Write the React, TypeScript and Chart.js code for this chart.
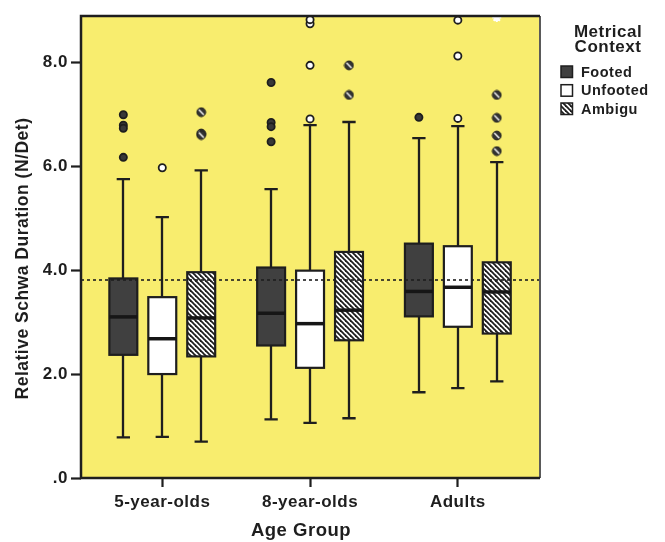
import React, { useEffect, useRef } from 'react';
import { Chart, registerables } from 'chart.js';

Chart.register(...registerables);

// ---------- data ----------
const categories = ['5-year-olds', '8-year-olds', 'Adults'];
const seriesNames = ['Footed', 'Unfooted', 'Ambigu'];
const yTickValues = [0, 2, 4, 6, 8];
const yTickLabels = ['.0', '2.0', '4.0', '6.0', '8.0'];
const referenceValue = 3.81;

const footedLow = [0.78, 1.13, 1.65];
const footedQ1 = [2.37, 2.55, 3.11];
const footedMedian = [3.1, 3.17, 3.59];
const footedQ3 = [3.84, 4.05, 4.51];
const footedHigh = [5.75, 5.56, 6.54];
const footedOutliers = [[6.99, 6.79, 6.73, 6.17], [7.61, 6.84, 6.76, 6.47], [6.94]];

const unfootedLow = [0.79, 1.06, 1.73];
const unfootedQ1 = [2.0, 2.12, 2.91];
const unfootedMedian = [2.68, 2.97, 3.67];
const unfootedQ3 = [3.48, 3.99, 4.46];
const unfootedHigh = [5.02, 6.79, 6.77];
const unfootedOutliers = [[5.97], [6.91, 7.94, 8.74, 8.82], [6.92, 8.12, 8.81]];

const ambiguLow = [0.7, 1.15, 1.86];
const ambiguQ1 = [2.34, 2.65, 2.78];
const ambiguMedian = [3.08, 3.23, 3.58];
const ambiguQ3 = [3.96, 4.35, 4.15];
const ambiguHigh = [5.92, 6.85, 6.08];
const ambiguOutliers = [[7.04, 6.63, 6.6], [7.94, 7.37], [7.37, 6.93, 6.59, 6.29]];
const ambiguExtremes = [[], [], [8.86]];

// ---------- layout / style ----------
const series = [
  { low: footedLow, q1: footedQ1, med: footedMedian, q3: footedQ3, high: footedHigh, out: footedOutliers },
  { low: unfootedLow, q1: unfootedQ1, med: unfootedMedian, q3: unfootedQ3, high: unfootedHigh, out: unfootedOutliers },
  { low: ambiguLow, q1: ambiguQ1, med: ambiguMedian, q3: ambiguQ3, high: ambiguHigh, out: ambiguOutliers },
];
const offsets = [-0.2635, 0, 0.2635];
const boxHalf = 0.0945;
const capHalf = 0.045;
const X_MIN = 0.45;
const X_MAX = 3.556;
const Y_MAX = 8.89;
const INK = '#1e1e1e';
const DARK = '#404040';
const YELLOW = '#F8ED6E';
const FONT = '"Liberation Sans", Arial, Helvetica, sans-serif';

function makeHatch(): CanvasPattern | string {
  const c = document.createElement('canvas');
  c.width = 5;
  c.height = 5;
  const g = c.getContext('2d');
  if (!g) return '#888';
  g.fillStyle = '#ffffff';
  g.fillRect(0, 0, 5, 5);
  g.strokeStyle = '#1e1e1e';
  g.lineWidth = 1.8;
  for (const k of [-5, 0, 5]) {
    g.beginPath();
    g.moveTo(k - 1, -1);
    g.lineTo(k + 6, 6);
    g.stroke();
  }
  const p = g.createPattern(c, 'repeat');
  return p || '#888';
}

function makeAmbiguPoint(): HTMLCanvasElement {
  const c = document.createElement('canvas');
  c.width = 11;
  c.height = 11;
  const g = c.getContext('2d');
  if (g) {
    g.beginPath();
    g.arc(5.5, 5.5, 4.4, 0, Math.PI * 2);
    g.fillStyle = '#333333';
    g.fill();
    g.lineWidth = 1;
    g.strokeStyle = INK;
    g.stroke();
    g.save();
    g.beginPath();
    g.arc(5.5, 5.5, 3.6, 0, Math.PI * 2);
    g.clip();
    g.strokeStyle = '#ffffff';
    g.lineWidth = 1.4;
    g.beginPath();
    g.moveTo(2.6, 2.6);
    g.lineTo(8.4, 8.4);
    g.stroke();
    g.restore();
  }
  return c;
}

export default function App() {
  const ref = useRef<HTMLCanvasElement | null>(null);

  useEffect(() => {
    document.body.style.margin = '0';
    const canvas = ref.current;
    if (!canvas) return;
    const hatch = makeHatch();
    const fills = [DARK, '#ffffff', hatch];

    const plugin = {
      id: 'boxplotDraw',
      beforeDraw(chart: any) {
        const { ctx, chartArea: a } = chart;
        (ctx as any).letterSpacing = '0.5px';
        ctx.save();
        ctx.fillStyle = YELLOW;
        ctx.fillRect(a.left, a.top, a.right - a.left, a.bottom - a.top);
        ctx.restore();
      },
      beforeDatasetsDraw(chart: any) {
        const { ctx, chartArea: a } = chart;
        const xs = chart.scales.x;
        const ys = chart.scales.y;
        ctx.save();
        ctx.beginPath();
        ctx.rect(a.left, a.top, a.right - a.left, a.bottom - a.top);
        ctx.clip();
        series.forEach((s, si) => {
          categories.forEach((_, gi) => {
            const xc = gi + 1 + offsets[si];
            const cx = Math.round(xs.getPixelForValue(xc));
            const l = xs.getPixelForValue(xc - boxHalf);
            const r = xs.getPixelForValue(xc + boxHalf);
            const cl = xs.getPixelForValue(xc - capHalf);
            const cr = xs.getPixelForValue(xc + capHalf);
            const yLow = ys.getPixelForValue(s.low[gi]);
            const yQ1 = ys.getPixelForValue(s.q1[gi]);
            const yMed = ys.getPixelForValue(s.med[gi]);
            const yQ3 = ys.getPixelForValue(s.q3[gi]);
            const yHigh = ys.getPixelForValue(s.high[gi]);
            ctx.strokeStyle = INK;
            ctx.lineWidth = 2.3;
            ctx.beginPath();
            ctx.moveTo(cx, yLow);
            ctx.lineTo(cx, yQ1);
            ctx.moveTo(cx, yQ3);
            ctx.lineTo(cx, yHigh);
            ctx.moveTo(cl, yLow);
            ctx.lineTo(cr, yLow);
            ctx.moveTo(cl, yHigh);
            ctx.lineTo(cr, yHigh);
            ctx.stroke();
            ctx.fillStyle = fills[si] as any;
            ctx.fillRect(l, yQ3, r - l, yQ1 - yQ3);
            ctx.lineWidth = 2.2;
            ctx.strokeStyle = INK;
            ctx.strokeRect(l, yQ3, r - l, yQ1 - yQ3);
            ctx.lineWidth = 3.5;
            ctx.strokeStyle = '#161616';
            ctx.beginPath();
            ctx.moveTo(l, yMed);
            ctx.lineTo(r, yMed);
            ctx.stroke();
          });
        });
        const yr = ys.getPixelForValue(referenceValue);
        ctx.setLineDash([3, 3]);
        ctx.lineWidth = 1.6;
        ctx.strokeStyle = INK;
        ctx.beginPath();
        ctx.moveTo(a.left, yr);
        ctx.lineTo(a.right, yr);
        ctx.stroke();
        ctx.restore();
      },
      afterDraw(chart: any) {
        const { ctx, chartArea: a } = chart;
        ctx.save();
        // frame
        ctx.setLineDash([]);
        ctx.strokeStyle = '#5a5a5a';
        ctx.lineWidth = 2;
        ctx.beginPath();
        ctx.moveTo(a.right, a.top);
        ctx.lineTo(a.right, a.bottom);
        ctx.stroke();
        ctx.strokeStyle = INK;
        ctx.lineWidth = 2.5;
        ctx.beginPath();
        ctx.moveTo(a.right, a.top);
        ctx.lineTo(a.left, a.top);
        ctx.lineTo(a.left, a.bottom);
        ctx.lineTo(a.right, a.bottom);
        ctx.stroke();

        ctx.fillStyle = INK;
        (ctx as any).letterSpacing = '0.5px';
        // axis titles
        ctx.font = `bold 18.5px ${FONT}`;
        ctx.textAlign = 'center';
        ctx.textBaseline = 'middle';
        ctx.fillText('Age Group', 301, 531);
        ctx.save();
        ctx.translate(23, 258.5);
        ctx.rotate(-Math.PI / 2);
        ctx.font = `bold 17.5px ${FONT}`;
        ctx.fillText('Relative Schwa Duration (N/Det)', 0, 0);
        ctx.restore();

        // legend
        ctx.font = `bold 17px ${FONT}`;
        ctx.textAlign = 'center';
        ctx.fillText('Metrical', 608, 32);
        ctx.fillText('Context', 608, 47.5);
        ctx.font = `bold 14.5px ${FONT}`;
        ctx.textAlign = 'left';
        const rows = [72, 90.7, 109];
        seriesNames.forEach((name, i) => {
          const cy = rows[i];
          ctx.fillStyle = fills[i] as any;
          ctx.fillRect(561, cy - 6, 11.5, 11.5);
          ctx.strokeStyle = INK;
          ctx.lineWidth = 1.5;
          ctx.strokeRect(561, cy - 6, 11.5, 11.5);
          ctx.fillStyle = INK;
          ctx.fillText(name, 581, cy + 0.5);
        });
        ctx.restore();
      },
    };

    const pointStyles: any[] = ['circle', 'circle', makeAmbiguPoint()];
    const pointBg = ['#383838', '#ffffff', '#333333'];
    const datasets: any[] = series.map((s, si) => ({
      label: seriesNames[si],
      data: s.out.flatMap((vals, gi) => vals.map((v) => ({ x: gi + 1 + offsets[si], y: v }))),
      pointStyle: pointStyles[si],
      radius: 3.6,
      backgroundColor: pointBg[si],
      borderColor: INK,
      borderWidth: 1.8,
      clip: 0,
    }));
    datasets.push({
      label: 'Ambigu extremes',
      data: ambiguExtremes.flatMap((vals, gi) => vals.map((v) => ({ x: gi + 1 + offsets[2], y: v }))),
      pointStyle: 'star',
      radius: 4.5,
      backgroundColor: '#ffffff',
      borderColor: '#ffffff',
      borderWidth: 2,
      clip: 0,
    });

    const chart = new Chart(canvas, {
      type: 'scatter',
      data: { datasets },
      plugins: [plugin],
      options: {
        animation: false,
        responsive: false,
        events: [],
        layout: { padding: { top: 16, right: 125, left: 0, bottom: 0 } },
        plugins: { legend: { display: false }, tooltip: { enabled: false }, title: { display: false } },
        scales: {
          x: {
            type: 'linear',
            min: X_MIN,
            max: X_MAX,
            afterBuildTicks: (scale: any) => {
              scale.ticks = categories.map((_, i) => ({ value: i + 1 }));
            },
            afterFit: (scale: any) => {
              scale.height = 64;
            },
            border: { display: false },
            grid: { drawOnChartArea: false, drawTicks: true, tickLength: 9, tickWidth: 2.2, tickColor: INK },
            ticks: {
              maxRotation: 0,
              autoSkip: false,
              padding: 5,
              color: INK,
              font: { family: FONT, size: 17, weight: 'bold' },
              callback: (_v: any, i: number) => categories[i],
            },
          },
          y: {
            type: 'linear',
            min: 0,
            max: Y_MAX,
            afterBuildTicks: (scale: any) => {
              scale.ticks = yTickValues.map((v) => ({ value: v }));
            },
            afterFit: (scale: any) => {
              scale.width = 81;
            },
            border: { display: false },
            grid: { drawOnChartArea: false, drawTicks: true, tickLength: 10, tickWidth: 2.2, tickColor: INK },
            ticks: {
              padding: 3,
              color: INK,
              font: { family: FONT, size: 17, weight: 'bold' },
              callback: (_v: any, i: number) => yTickLabels[i],
            },
          },
        },
      } as any,
    });
    return () => chart.destroy();
  }, []);

  return (
    <div style={{ width: 665, height: 542 }}>
      <canvas ref={ref} width={665} height={542} style={{ display: 'block' }} />
    </div>
  );
}
